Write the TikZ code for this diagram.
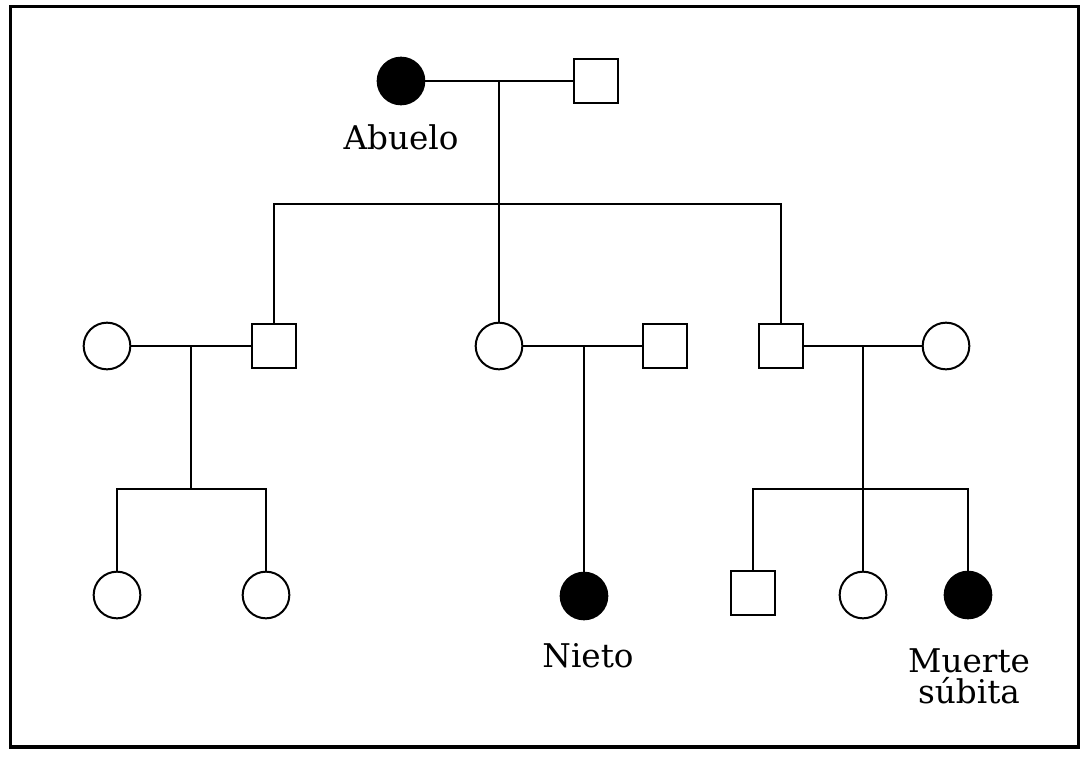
\documentclass[tikz,border=0pt]{standalone}
\usepackage{fontspec}
\setmainfont{DejaVu Serif}

\begin{document}
\begin{tikzpicture}[x=0.75pt,y=0.75pt,yscale=-1,xscale=1,
  male/.style={draw,line width=1.5pt,inner sep=0pt,minimum size=33.5pt,fill=white},
  female/.style={draw,circle,line width=1.5pt,inner sep=0pt,minimum size=35pt,fill=white},
  affected/.style={fill=black},
  link/.style={line width=1.5pt},
  lbl/.style={inner sep=0.75pt,font=\fontsize{24.5}{23}\selectfont,align=center}]
\useasboundingbox (0,0) rectangle (1089,764);
% Frame
\draw[line width=2.8pt] (10.5,6.5) rectangle (1078.5,747);

% Generation I
\node [female,affected] (abuelo) at (401,81) {};
\node [male] (abuela) at (596,81) {};
\coordinate (m1) at (499,81);
\coordinate (b1) at (499,204);
% Generation II
\node [female] (esp1) at (107,346) {};
\node [male] (hijo1) at (274,346) {};
\node [female] (hija2) at (499,346) {};
\node [male] (yerno) at (665,346) {};
\node [male] (hijo3) at (781,346) {};
\node [female] (esp3) at (946,346) {};
\coordinate (m2) at (191,346);
\coordinate (b2) at (191,489);
\coordinate (m3) at (584,346);
\coordinate (m4) at (863,346);
\coordinate (b4) at (863,489);
% Generation III
\node [female] (nieta1) at (117,595) {};
\node [female] (nieta2) at (266,595) {};
\node [female,affected] (nieto) at (584,596) {};
\node [male] (nieto3) at (753,593) {};
\node [female] (nieta4) at (863,595) {};
\node [female,affected] (nieta5) at (968,595) {};

% Text Node
\node [lbl] (tAbuelo) at (401,137) {Abuelo};
% Text Node
\node [lbl] (tNieto) at (588,656) {Nieto};
% Text Node
\node [lbl] (tMuerte) at (969,676) {Muerte\\súbita};

% Connection
\draw [link] (abuelo) -- (abuela);
\draw [link] (m1) -- (b1);
\draw [link] (hijo1.north) |- (b1);
\draw [link] (b1) -- (hija2);
\draw [link] (hijo3.north) |- (b1);
% Connection
\draw [link] (esp1) -- (hijo1);
\draw [link] (m2) -- (b2);
\draw [link] (nieta1.north) |- (b2);
\draw [link] (nieta2.north) |- (b2);
% Connection
\draw [link] (hija2) -- (yerno);
\draw [link] (m3) -- (nieto);
% Connection
\draw [link] (hijo3) -- (esp3);
\draw [link] (m4) -- (nieta4);
\draw [link] (nieto3.north) |- (b4);
\draw [link] (nieta5.north) |- (b4);

\end{tikzpicture}
\end{document}
